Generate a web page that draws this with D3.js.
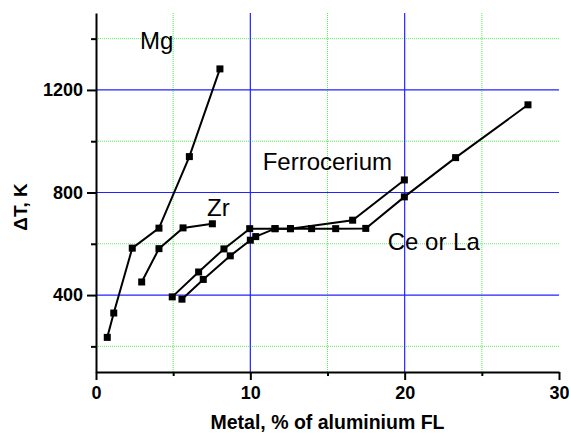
<!DOCTYPE html>
<html>
<head>
<meta charset="utf-8">
<script src="https://cdn.jsdelivr.net/npm/d3@7"></script>
<style>
  body { margin: 0; background: #fff; }
  text { font-family: "Liberation Sans", Arial, sans-serif; }
</style>
</head>
<body>
<div id="chart"></div>
<script>
// data: [metal %, deltaT K]
var mgData = [[0.73, 235], [1.15, 330], [2.35, 583], [4.08, 661], [6.05, 940], [8.03, 1282]];
var zrData = [[2.96, 451], [4.08, 581], [5.64, 662], [7.54, 678]];
var ferroData = [[4.94, 393], [6.65, 490], [8.29, 580], [9.96, 659], [11.6, 659], [12.6, 659], [16.63, 692], [19.98, 849]];
var ceLaData = [[5.57, 384], [6.95, 461], [8.7, 553], [10.0, 614], [10.35, 628], [11.6, 659], [12.6, 659], [13.97, 659], [15.53, 659], [17.48, 660], [19.98, 783], [23.3, 936], [27.99, 1142]];

var xMajor = [0, 10, 20, 30];
var xMinor = [5, 15, 25];
var yMajor = [400, 800, 1200];
var yMinor = [200, 600, 1000, 1400];

var seriesLabels = [
  {name: "Mg", x: 2.85, y: 1360},
  {name: "Zr", x: 7.2, y: 708},
  {name: "Ferrocerium", x: 10.8, y: 888},
  {name: "Ce or La", x: 18.9, y: 576}
];

var margin = {top: 13, right: 10, bottom: 64, left: 96};

var svg = d3.select("#chart").append("svg")
    .attr("width", 569)
    .attr("height", 436)
  .append("g")
    .attr("transform", "translate(" + margin.left + "," + margin.top + ")");

var x = d3.scaleLinear().domain([0, 30]).range([0, 463]);
var y = d3.scaleLinear().domain([100, 1500]).range([359, 0]);

// minor grid (green dotted)
svg.selectAll(".gx-minor").data(xMinor).enter().append("line")
  .attr("x1", d => x(d)).attr("x2", d => x(d))
  .attr("y1", 0).attr("y2", 359)
  .attr("stroke", "#55ee55").attr("stroke-width", 1)
  .attr("stroke-dasharray", "1,1");

svg.selectAll(".gy-minor").data(yMinor).enter().append("line")
  .attr("x1", 0).attr("x2", 463)
  .attr("y1", d => y(d)).attr("y2", d => y(d))
  .attr("stroke", "#55ee55").attr("stroke-width", 1)
  .attr("stroke-dasharray", "1,1");

// major grid (blue)
svg.selectAll(".gx-major").data(xMajor.filter(d => d > 0 && d < 30)).enter().append("line")
  .attr("x1", d => x(d)).attr("x2", d => x(d))
  .attr("y1", 0).attr("y2", 359)
  .attr("stroke", "#2222ff").attr("stroke-width", 1.2);

svg.selectAll(".gy-major").data(yMajor).enter().append("line")
  .attr("x1", 0).attr("x2", 463)
  .attr("y1", d => y(d)).attr("y2", d => y(d))
  .attr("stroke", "#2222ff").attr("stroke-width", 1.2);

// axes
svg.append("g")
  .attr("transform", "translate(0,359)")
  .call(d3.axisBottom(x).tickValues(xMajor).tickFormat(d3.format("d")).tickSize(8).tickPadding(6).tickSizeOuter(0));
svg.append("g")
  .attr("transform", "translate(0,359)")
  .call(d3.axisBottom(x).tickValues(xMinor).tickSize(4).tickFormat("").tickSizeOuter(0))
  .select(".domain").remove();

svg.append("g")
  .call(d3.axisLeft(y).tickValues(yMajor).tickFormat(d3.format("d")).tickSize(9).tickPadding(4).tickSizeOuter(0));
svg.append("g")
  .call(d3.axisLeft(y).tickValues(yMinor).tickSize(5).tickFormat("").tickSizeOuter(0))
  .select(".domain").remove();

svg.selectAll(".domain, .tick line").attr("stroke", "#000").attr("stroke-width", 2);
svg.selectAll(".tick text")
  .attr("fill", "#000")
  .style("font-size", "18px")
  .style("font-weight", "bold")
  .style("font-family", "'Liberation Sans', Arial, sans-serif");

// axis titles
svg.append("text")
  .attr("x", 463 / 2).attr("y", 416)
  .attr("text-anchor", "middle")
  .style("font-size", "19.5px").style("font-weight", "bold")
  .text("Metal, % of aluminium FL");

svg.append("text")
  .attr("transform", "translate(-69," + (207 - margin.top) + ") rotate(-90)")
  .attr("text-anchor", "middle")
  .style("font-size", "19px").style("font-weight", "bold")
  .text("\u0394T, K");

// series lines and markers
var line = d3.line().x(d => x(d[0])).y(d => y(d[1]));
[mgData, zrData, ferroData, ceLaData].forEach(function(data) {
  svg.append("path")
    .datum(data)
    .attr("d", line)
    .attr("fill", "none")
    .attr("stroke", "#000")
    .attr("stroke-width", 2);
  svg.selectAll(null).data(data).enter().append("rect")
    .attr("x", d => x(d[0]) - 3.5)
    .attr("y", d => y(d[1]) - 3.5)
    .attr("width", 7).attr("height", 7)
    .attr("fill", "#000");
});

// series labels
svg.selectAll(".lbl").data(seriesLabels).enter().append("text")
  .attr("x", d => x(d.x))
  .attr("y", d => y(d.y))
  .style("font-size", "24px")
  .attr("fill", "#000")
  .text(d => d.name);
</script>
</body>
</html>
